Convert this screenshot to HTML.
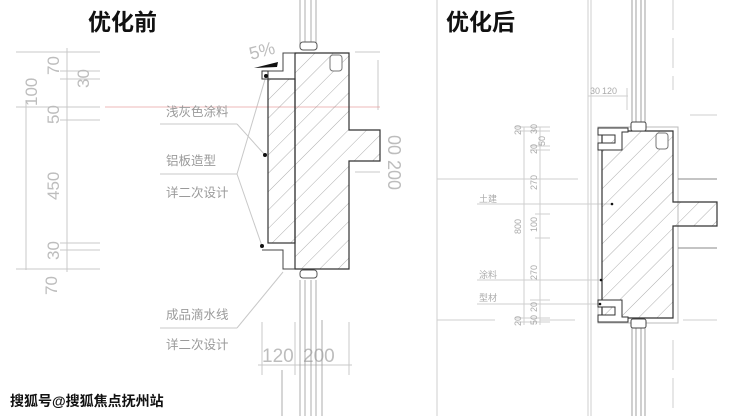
<!DOCTYPE html>
<html><head><meta charset="utf-8"><style>
html,body{margin:0;padding:0;background:#fff;}
svg{display:block;}
text{font-family:"Liberation Sans","Noto Sans CJK SC",sans-serif;}
</style></head><body>
<svg width="740" height="416" viewBox="0 0 740 416" xmlns="http://www.w3.org/2000/svg">
<defs>
<pattern id="h" patternUnits="userSpaceOnUse" width="13" height="13" patternTransform="rotate(45)">
<line x1="0" y1="0" x2="0" y2="13" stroke="#777" stroke-width="0.6"/>
</pattern>
</defs>
<rect width="740" height="416" fill="#fff"/>
<!-- LEFT -->
<text x="88" y="30" font-size="23" font-weight="bold" fill="#111">优化前</text>
<g stroke="#c8c8c8" stroke-width="1" fill="none">
<line x1="16" y1="52" x2="100" y2="52"/><line x1="60" y1="71" x2="100" y2="71"/>
<line x1="60" y1="79" x2="100" y2="79"/><line x1="16" y1="107" x2="100" y2="107"/>
<line x1="60" y1="120" x2="100" y2="120"/><line x1="60" y1="243" x2="100" y2="243"/>
<line x1="60" y1="250" x2="100" y2="250"/><line x1="16" y1="269" x2="100" y2="269"/>
<line x1="67" y1="48" x2="67" y2="272"/><line x1="26" y1="100" x2="26" y2="270"/>
<line x1="160" y1="124" x2="237" y2="124"/><line x1="237" y1="124" x2="265" y2="155"/>
<line x1="160" y1="174" x2="237" y2="174"/><line x1="237" y1="174" x2="266" y2="76"/><line x1="237" y1="174" x2="262" y2="246"/>
<line x1="160" y1="328" x2="237" y2="328"/><line x1="237" y1="328" x2="283" y2="272"/>
<line x1="262" y1="322" x2="262" y2="375"/><line x1="295" y1="322" x2="295" y2="375"/><line x1="349" y1="322" x2="349" y2="375"/>
<line x1="258" y1="365" x2="352" y2="365"/>
<line x1="355" y1="52" x2="380" y2="52"/><line x1="355" y1="172" x2="380" y2="172"/>
<line x1="378" y1="60" x2="378" y2="110"/>
</g>
<line x1="105" y1="107" x2="380" y2="107" stroke="#e8a0a0" stroke-width="0.7"/>
<g fill="#bdbdbd" font-size="17">
<text transform="translate(59,75) rotate(-90)">70</text>
<text transform="translate(89,88) rotate(-90)">30</text>
<text transform="translate(37,106) rotate(-90)">100</text>
<text transform="translate(59,124) rotate(-90)">50</text>
<text transform="translate(59,200) rotate(-90)">450</text>
<text transform="translate(59,260) rotate(-90)">30</text>
<text transform="translate(57,295) rotate(-90)">70</text>
<text x="262" y="362" font-size="19">120</text><text x="303" y="362" font-size="19">200</text>
<text transform="translate(251,60) rotate(-15)" font-size="18">5%</text>
<text transform="translate(388,135) rotate(90)" font-size="18">00 200</text>
</g>
<g fill="#9a9a9a" font-size="12.5">
<text x="166" y="116">浅灰色涂料</text>
<text x="166" y="165">铝板造型</text>
<text x="166" y="197">详二次设计</text>
<text x="166" y="319">成品滴水线</text>
<text x="166" y="349">详二次设计</text>
</g>
<g stroke="#999" stroke-width="0.8">
<line x1="300" y1="0" x2="300" y2="45"/><line x1="305" y1="0" x2="305" y2="45"/><line x1="311" y1="0" x2="311" y2="45"/><line x1="316" y1="0" x2="316" y2="45"/>
<line x1="300" y1="280" x2="300" y2="416"/><line x1="305" y1="280" x2="305" y2="416"/><line x1="311" y1="280" x2="311" y2="416"/><line x1="316" y1="280" x2="316" y2="416"/>
<line x1="282" y1="370" x2="282" y2="416"/><line x1="322" y1="320" x2="322" y2="416"/>
</g>
<rect x="300" y="42" width="17" height="8" rx="3" fill="#fff" stroke="#555"/>
<rect x="300" y="270" width="17" height="8" rx="3" fill="#fff" stroke="#555"/>
<path d="M295 53 H349 V130 H380 V161 H349 V269 H295 Z" fill="url(#h)" stroke="#333" stroke-width="1.2"/>
<rect x="268" y="79" width="27" height="164" fill="url(#h)" stroke="#333" stroke-width="1.2"/>
<path d="M295 53 H283 V71 H262 V79 M262 250 H283 V269 H295" fill="none" stroke="#444" stroke-width="1"/>
<rect x="262" y="71" width="6" height="8" fill="#fff" stroke="#333"/>
<rect x="330" y="55" width="12" height="16" rx="3" fill="#fff" stroke="#777"/>
<polygon points="254,68 278,62 277,67" fill="#111"/>
<g fill="#111"><circle cx="266" cy="76" r="2"/><circle cx="265" cy="155" r="2"/><circle cx="262" cy="246" r="2"/></g>
<text x="10" y="406" font-size="14" font-weight="bold" fill="#111">搜狐号@搜狐焦点抚州站</text>

<!-- RIGHT -->
<text x="446" y="30" font-size="23" font-weight="bold" fill="#111">优化后</text>
<g stroke="#cfcfcf" stroke-width="1" fill="none">
<line x1="437" y1="0" x2="437" y2="416"/>
<line x1="588" y1="0" x2="588" y2="416"/><line x1="591" y1="0" x2="591" y2="416"/>
<line x1="673" y1="0" x2="673" y2="90" stroke-dasharray="30 8"/><line x1="673" y1="340" x2="673" y2="416" stroke-dasharray="30 8"/>
<line x1="437" y1="179" x2="578" y2="179"/><line x1="437" y1="320" x2="495" y2="320"/><line x1="540" y1="320" x2="575" y2="320"/>
<line x1="683" y1="320" x2="717" y2="320"/><line x1="690" y1="115" x2="717" y2="115"/>
<line x1="524" y1="127" x2="524" y2="325"/><line x1="540" y1="127" x2="540" y2="325"/>
<line x1="515" y1="127" x2="550" y2="127"/><line x1="515" y1="131" x2="550" y2="131"/><line x1="530" y1="146" x2="550" y2="146"/><line x1="530" y1="150" x2="550" y2="150"/>
<line x1="535" y1="214" x2="550" y2="214"/><line x1="535" y1="238" x2="550" y2="238"/>
<line x1="530" y1="300" x2="550" y2="300"/><line x1="530" y1="304" x2="550" y2="304"/><line x1="515" y1="318" x2="550" y2="318"/><line x1="515" y1="322" x2="550" y2="322"/>
<line x1="588" y1="96" x2="628" y2="96"/><line x1="627" y1="88" x2="627" y2="110"/>
<line x1="477" y1="204" x2="612" y2="204"/><line x1="477" y1="280" x2="601" y2="280"/><line x1="477" y1="304" x2="600" y2="304"/>
</g>
<g fill="#aaa" font-size="9">
<text x="590" y="94">30</text><text x="602" y="94">120</text>
<text transform="translate(521,135) rotate(-90)">20</text><text transform="translate(537,134) rotate(-90)">30</text><text transform="translate(545,146) rotate(-90)">50</text>
<text transform="translate(537,154) rotate(-90)">20</text><text transform="translate(537,190) rotate(-90)">270</text>
<text transform="translate(521,234) rotate(-90)">800</text><text transform="translate(537,232) rotate(-90)">100</text>
<text transform="translate(537,280) rotate(-90)">270</text><text transform="translate(537,312) rotate(-90)">20</text>
<text transform="translate(537,325) rotate(-90)">50</text><text transform="translate(521,326) rotate(-90)">20</text>
<text x="479" y="202">土建</text><text x="479" y="278">涂料</text><text x="479" y="301">型材</text>
</g>
<g stroke="#888" stroke-width="0.8">
<line x1="632" y1="0" x2="632" y2="125"/><line x1="636" y1="0" x2="636" y2="125"/><line x1="641" y1="0" x2="641" y2="125"/><line x1="645" y1="0" x2="645" y2="125"/>
<line x1="632" y1="325" x2="632" y2="416"/><line x1="636" y1="325" x2="636" y2="416"/><line x1="641" y1="325" x2="641" y2="416"/><line x1="645" y1="325" x2="645" y2="416"/>
</g>
<rect x="598" y="127" width="80" height="196" fill="none" stroke="#bbb"/>
<path d="M678 179 H717 M678 248 H717" stroke="#888" fill="none"/>
<path d="M602 131 H673 V202 H717 V226 H673 V318 H602 Z" fill="url(#h)" stroke="#333" stroke-width="1.2"/>
<path d="M598 128 H628 V132 H622 V150 H598 V143 H615 V135 H598 Z" fill="#fff" stroke="#333" stroke-width="1"/>
<path d="M598 300 H622 V317 H628 V322 H598 V315 H615 V307 H598 Z" fill="#fff" stroke="#333" stroke-width="1"/>
<rect x="631" y="122" width="15" height="9" rx="2" fill="#fff" stroke="#444"/>
<rect x="631" y="319" width="15" height="9" rx="2" fill="#fff" stroke="#444"/>
<rect x="656" y="133" width="12" height="16" rx="3" fill="#fff" stroke="#777"/>
<g fill="#111"><circle cx="612" cy="204" r="1.3"/><circle cx="601" cy="280" r="1.3"/><circle cx="600" cy="304" r="1.3"/></g>
</svg>
</body></html>
